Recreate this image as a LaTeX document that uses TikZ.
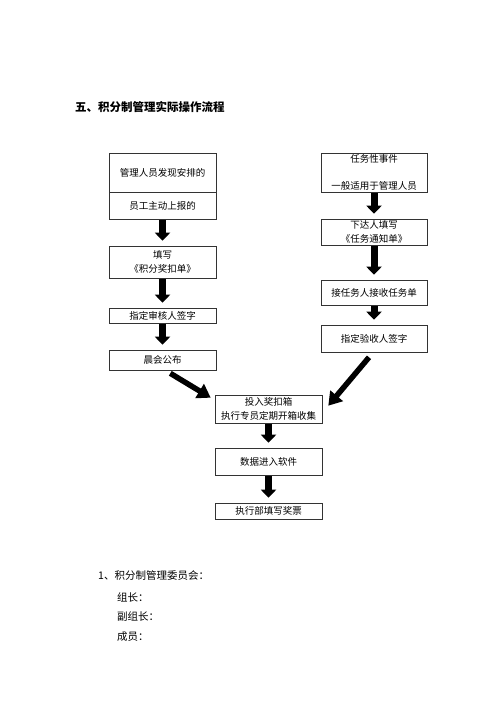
\documentclass[tikz,border=0pt]{standalone}
\usepackage{fontspec}
\setmainfont{Noto Sans CJK SC}
\usetikzlibrary{arrows.meta,calc}

\begin{document}
\begin{tikzpicture}[x=1pt,y=-1pt,
    box/.style={draw=black!80,line width=0.6pt,minimum width=107pt,inner sep=0pt,
      align=center,font=\fontsize{9.5}{13.5}\selectfont},
    downarrow/.style={line width=7pt,-{Triangle[width=15pt,length=8pt]},
      shorten <=1pt,shorten >=5pt},
    slantarrow/.style={line width=5.5pt,-{Triangle[width=16pt,length=13pt]}},
    plain/.style={anchor=west,inner sep=0pt,font=\fontsize{10.5}{13}\selectfont}]
  \useasboundingbox[fill=white] (0,0) rectangle (500,706);
  \node[anchor=west,inner sep=0pt,font=\fontsize{11.5}{14}\selectfont\bfseries] (title) at (75,107) {五、积分制管理实际操作流程};
  % left column
  \node[box,minimum height=39pt] (L1a) at (162.5,172.5) {管理人员发现安排的};
  \node[box,minimum height=27pt] (L1b) at (162.5,205.5) {员工主动上报的};
  \node[box,minimum height=32pt] (L2) at (162.5,262) {填写\\《积分奖扣单》};
  \node[box,minimum height=15pt] (L3) at (162.5,315.5) {指定审核人签字};
  \node[box,minimum height=20pt] (L4) at (162.5,360) {晨会公布};
  % right column
  \node[box,minimum width=106pt,minimum height=39pt] (R1) at (374,172.5) {任务性事件\\[13.5pt]一般适用于管理人员};
  \node[box,minimum width=106pt,minimum height=26pt] (R2) at (374,232) {下达人填写\\《任务通知单》};
  \node[box,minimum width=106pt,minimum height=25pt] (R3) at (374,292.5) {接任务人接收任务单};
  \node[box,minimum width=106pt,minimum height=27pt] (R4) at (374,338.5) {指定验收人签字};
  % middle column
  \node[box,minimum height=28pt] (C1) at (268.5,409) {投入奖扣箱\\执行专员定期开箱收集};
  \node[box,minimum height=27pt] (C2) at (268.5,461.5) {数据进入软件};
  \node[box,minimum height=16pt] (C3) at (268.5,511) {执行部填写奖票};
  \foreach \a/\b in {L1b/L2,L2/L3,L3/L4,R1/R2,R2/R3,R3/R4,C1/C2,C2/C3}
    \draw[downarrow] (\a) -- (\b);
  \draw[slantarrow] ([xshift=-46pt,yshift=-3pt]L4.south east) -- ([xshift=-4pt,yshift=-3pt]C1.north west);
  \draw[slantarrow] ([xshift=-5pt,yshift=-5pt]R4.south) -- ([xshift=6pt,yshift=-11pt]C1.north east);
  % committee list
  \node[plain] (com) at (98,576) {1、积分制管理委员会：};
  \node[plain] (lead) at (117,597) {组长：};
  \node[plain] (vice) at (117,617) {副组长：};
  \node[plain] (memb) at (117,637) {成员：};
\end{tikzpicture}
\end{document}
